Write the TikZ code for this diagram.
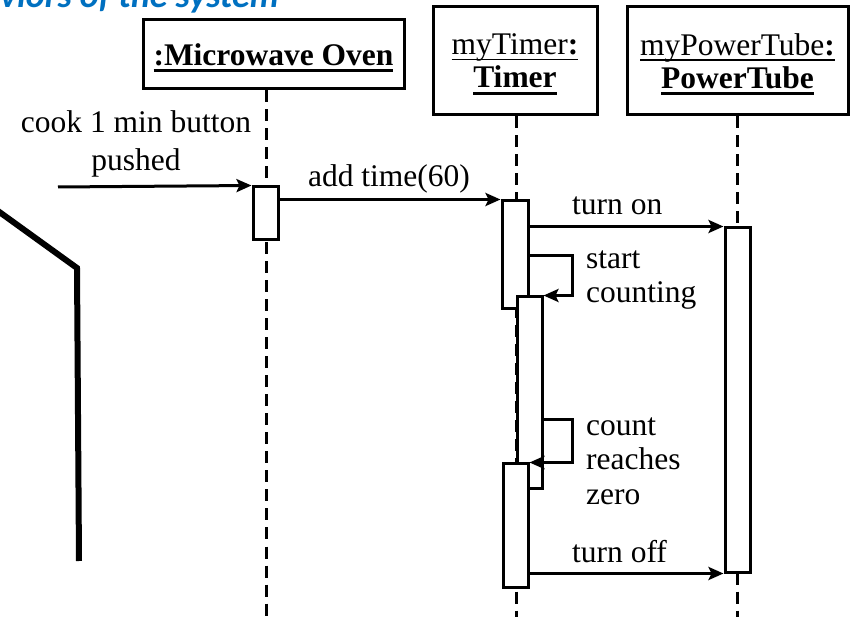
\documentclass[tikz,border=0pt]{standalone}
\usepackage{fontspec}
\setmainfont{Liberation Serif}
\newfontfamily\titlefont{Carlito}
\usetikzlibrary{arrows.meta, positioning}
\definecolor{titleblue}{RGB}{0,112,192}
\newcommand{\ulthin}[1]{\sbox0{#1}\rlap{\rule[-5.5pt]{\wd0}{1.5pt}}\usebox0}
\newcommand{\ulthick}[1]{\sbox0{#1}\rlap{\rule[-7pt]{\wd0}{3pt}}\usebox0}
\newcommand{\lowr}[1]{\raisebox{-3.5pt}[\height][\depth]{#1}}

\begin{document}
\begin{tikzpicture}[x=1pt, y=-1pt, font=\fontsize{31.5}{34}\selectfont,
    >={Stealth[length=15pt, width=13pt, inset=3pt]},
    head/.style={draw, line width=3pt, align=center, inner sep=0pt, font=\fontsize{31.5}{33}\selectfont},
    act/.style={draw, fill=white, line width=3pt, minimum width=25pt, inner sep=0pt},
    life/.style={line width=3pt, dash pattern=on 12pt off 7pt},
    msg/.style={->, line width=3pt},
    lbl/.style={inner sep=0pt, align=left}
]
    \useasboundingbox (0,0) rectangle (852,617);
    \node[anchor=base west, inner sep=0pt, text=titleblue, font=\titlefont\bfseries\itshape\fontsize{36}{40}\selectfont] (title) at (0,8) {viors of the system};
    \draw[line width=6pt] (-2,211) -- (77,268) -- (79,561);

    \node[head, minimum width=261pt, minimum height=69pt] (mw) at (273.5,54.5) {\lowr{\ulthick{\textbf{:Microwave Oven}}}};
    \node[head, minimum width=164pt, minimum height=108pt] (tm) at (515,61) {\lowr{\ulthin{myTimer\textbf{:}}}\\\lowr{\ulthick{\textbf{Timer}}}};
    \node[head, minimum width=221pt, minimum height=108pt] (pt) at (737.5,61) {\lowr{\ulthin{myPowerTube\textbf{:}}}\\\lowr{\ulthick{\textbf{PowerTube}}}};

    \coordinate (mwend) at (266,617);
    \coordinate (tmend) at (516,617);
    \coordinate (ptend) at (737,617);
    \draw[life] (mwend |- mw.south) -- (mwend);
    \draw[life] (tmend |- tm.south) -- (tmend);
    \draw[life] (ptend |- pt.south) -- (ptend);

    \node[act, minimum height=53pt] (mw1) at (265.5,213.5) {};
    \node[act, minimum height=108pt, minimum width=26pt] (t1) at (515,255) {};
    \node[act, minimum height=192pt] (t2) at (529.5,393) {};
    \node[act, minimum height=123pt] (t3) at (515.5,525.5) {};
    \node[act, minimum height=344pt] (ptact) at (737.5,400) {};

    \coordinate (btn) at (58,187);
    \coordinate (s1) at (572,256);
    \coordinate (s2) at (572,420);

    \draw[msg] (btn) -- (mw1.north west);
    \draw[msg] (mw1.east |- t1.north west) -- (t1.north west);
    \draw[msg] (t1.east |- ptact.north west) -- (ptact.north west);
    \draw[msg] (t1.east |- s1) -- (s1) |- (t2.north east);
    \draw[msg] (t2.east |- s2) -- (s2) |- (t3.north east);
    \draw[msg] (t3.east |- ptact.south west) -- (ptact.south west);

    \node[lbl, align=center, anchor=base, font=\fontsize{31.5}{38}\selectfont] (cooklbl) at (136,171) {cook 1 min button\\pushed};
    \node[lbl, anchor=base] (addlbl) at (389,187) {add time(60)};
    \node[lbl, anchor=base west] (onlbl) at (572,215) {turn on};
    \node[lbl, anchor=base west] (startlbl) at (586,303) {start\\counting};
    \node[lbl, anchor=base west, font=\fontsize{31.5}{34.5}\selectfont] (zerolbl) at (586,504) {count\\reaches\\zero};
    \node[lbl, anchor=base west] (offlbl) at (572,562) {turn off};
\end{tikzpicture}
\end{document}
